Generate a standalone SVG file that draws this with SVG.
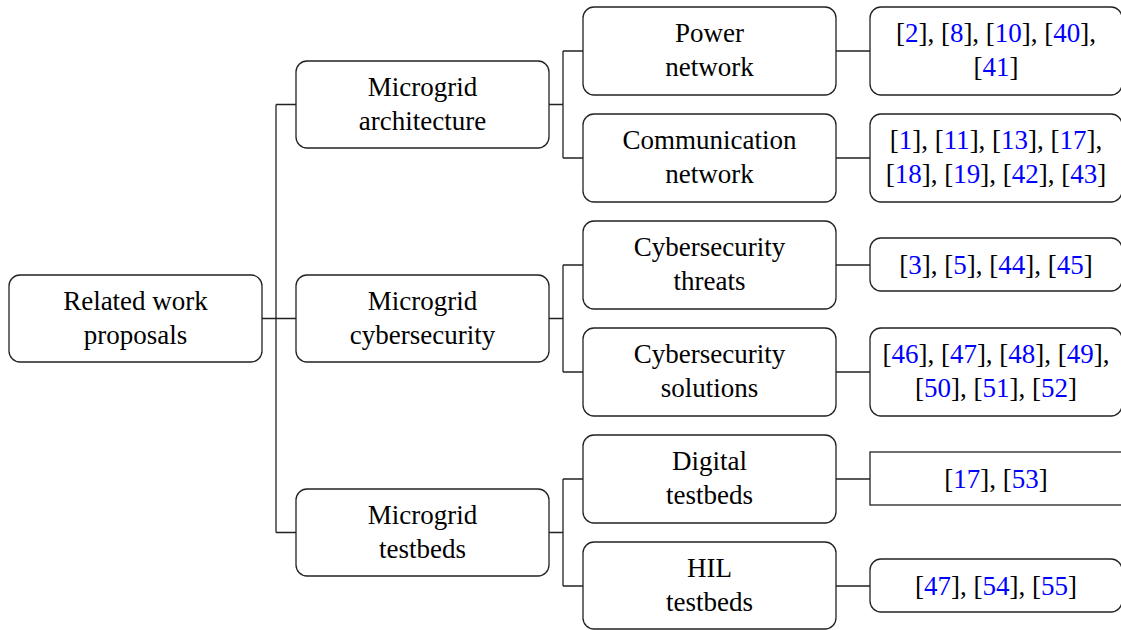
<svg xmlns="http://www.w3.org/2000/svg" width="1121" height="630" viewBox="0 0 1121 630">
  <style>
    .box { fill: #fff; stroke: #222; stroke-width: 1.3; }
    .lbl { font-family: "Liberation Serif", "Times New Roman", serif; font-size: 27px; fill: #000; text-anchor: middle; }
    .ref { fill: #0000ff; }
    .wire { fill: none; stroke: #222; stroke-width: 1.3; }
  </style>
  <rect width="1121" height="630" fill="#fff"/>

  <g id="connectors">
    <!-- root to first level -->
    <path class="wire" d="M262 318.5 H276 M276 104.5 V532.5 M276 104.5 H296 M276 318.5 H296 M276 532.5 H296"/>
    <!-- architecture branch -->
    <path class="wire" d="M549 104.5 H563 M563 51 V158 M563 51 H583 M563 158 H583"/>
    <!-- cybersecurity branch -->
    <path class="wire" d="M549 318.5 H563 M563 265 V372 M563 265 H583 M563 372 H583"/>
    <!-- testbeds branch -->
    <path class="wire" d="M549 532.5 H563 M563 479 V586 M563 479 H583 M563 586 H583"/>
    <!-- leaves to reference lists -->
    <path class="wire" d="M836 51 H870 M836 158 H870 M836 265 H870 M836 372 H870 M836 479 H870 M836 586 H870"/>
  </g>

  <g id="root">
    <rect class="box" x="9" y="275" width="253" height="87" rx="11"/>
    <text class="lbl" x="135.5" y="310">Related work</text>
    <text class="lbl" x="135.5" y="344">proposals</text>
  </g>

  <g id="architecture">
    <rect class="box" x="296" y="61" width="253" height="87" rx="11"/>
    <text class="lbl" x="422.5" y="96">Microgrid</text>
    <text class="lbl" x="422.5" y="130">architecture</text>
  </g>
  <g id="cybersecurity">
    <rect class="box" x="296" y="275" width="253" height="87" rx="11"/>
    <text class="lbl" x="422.5" y="310">Microgrid</text>
    <text class="lbl" x="422.5" y="344">cybersecurity</text>
  </g>
  <g id="testbeds">
    <rect class="box" x="296" y="489" width="253" height="87" rx="11"/>
    <text class="lbl" x="422.5" y="524">Microgrid</text>
    <text class="lbl" x="422.5" y="558">testbeds</text>
  </g>

  <g id="power-network">
    <rect class="box" x="583" y="7" width="253" height="88" rx="11"/>
    <text class="lbl" x="709.5" y="42">Power</text>
    <text class="lbl" x="709.5" y="76">network</text>
  </g>
  <g id="communication-network">
    <rect class="box" x="583" y="114" width="253" height="88" rx="11"/>
    <text class="lbl" x="709.5" y="149">Communication</text>
    <text class="lbl" x="709.5" y="183">network</text>
  </g>
  <g id="cyber-threats">
    <rect class="box" x="583" y="221" width="253" height="88" rx="11"/>
    <text class="lbl" x="709.5" y="256">Cybersecurity</text>
    <text class="lbl" x="709.5" y="290">threats</text>
  </g>
  <g id="cyber-solutions">
    <rect class="box" x="583" y="328" width="253" height="88" rx="11"/>
    <text class="lbl" x="709.5" y="363">Cybersecurity</text>
    <text class="lbl" x="709.5" y="397">solutions</text>
  </g>
  <g id="digital-testbeds">
    <rect class="box" x="583" y="435" width="253" height="88" rx="11"/>
    <text class="lbl" x="709.5" y="470">Digital</text>
    <text class="lbl" x="709.5" y="504">testbeds</text>
  </g>
  <g id="hil-testbeds">
    <rect class="box" x="583" y="542" width="253" height="87" rx="11"/>
    <text class="lbl" x="709.5" y="577">HIL</text>
    <text class="lbl" x="709.5" y="611">testbeds</text>
  </g>

  <g id="refs-power">
    <rect class="box" x="870" y="7" width="252" height="88" rx="11"/>
    <text class="lbl" x="996" y="42">[<tspan class="ref">2</tspan>], [<tspan class="ref">8</tspan>], [<tspan class="ref">10</tspan>], [<tspan class="ref">40</tspan>],</text>
    <text class="lbl" x="996" y="76">[<tspan class="ref">41</tspan>]</text>
  </g>
  <g id="refs-communication">
    <rect class="box" x="870" y="114" width="252" height="88" rx="11"/>
    <text class="lbl" x="996" y="149">[<tspan class="ref">1</tspan>], [<tspan class="ref">11</tspan>], [<tspan class="ref">13</tspan>], [<tspan class="ref">17</tspan>],</text>
    <text class="lbl" x="996" y="183">[<tspan class="ref">18</tspan>], [<tspan class="ref">19</tspan>], [<tspan class="ref">42</tspan>], [<tspan class="ref">43</tspan>]</text>
  </g>
  <g id="refs-threats">
    <rect class="box" x="870" y="238" width="252" height="53" rx="11"/>
    <text class="lbl" x="996" y="274">[<tspan class="ref">3</tspan>], [<tspan class="ref">5</tspan>], [<tspan class="ref">44</tspan>], [<tspan class="ref">45</tspan>]</text>
  </g>
  <g id="refs-solutions">
    <rect class="box" x="870" y="328" width="252" height="88" rx="11"/>
    <text class="lbl" x="996" y="363">[<tspan class="ref">46</tspan>], [<tspan class="ref">47</tspan>], [<tspan class="ref">48</tspan>], [<tspan class="ref">49</tspan>],</text>
    <text class="lbl" x="996" y="397">[<tspan class="ref">50</tspan>], [<tspan class="ref">51</tspan>], [<tspan class="ref">52</tspan>]</text>
  </g>
  <g id="refs-digital">
    <rect class="box" x="870" y="452" width="260" height="53"/>
    <text class="lbl" x="996" y="488">[<tspan class="ref">17</tspan>], [<tspan class="ref">53</tspan>]</text>
  </g>
  <g id="refs-hil">
    <rect class="box" x="870" y="559" width="252" height="53" rx="11"/>
    <text class="lbl" x="996" y="595">[<tspan class="ref">47</tspan>], [<tspan class="ref">54</tspan>], [<tspan class="ref">55</tspan>]</text>
  </g>
</svg>
